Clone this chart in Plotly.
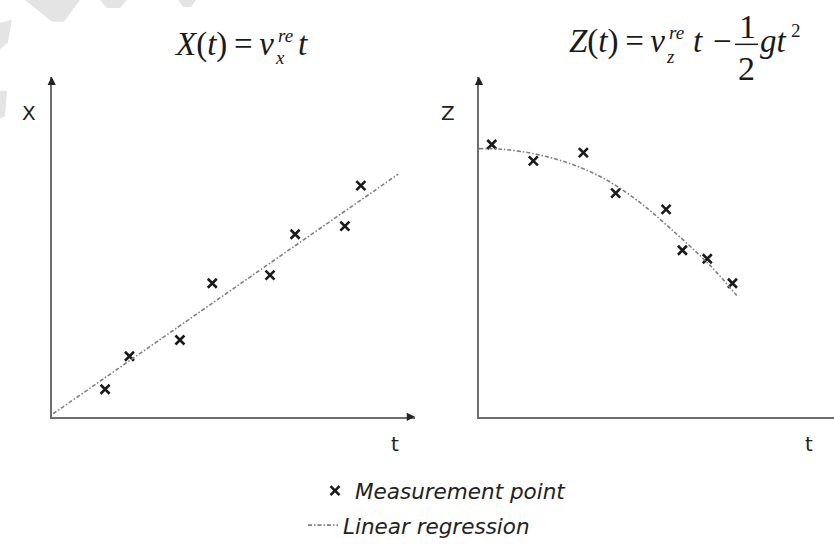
import plotly.graph_objects as go

W, H = 834, 546

# ---------------- data ----------------
t_x = [1.47, 2.14, 3.53, 4.42, 6.01, 6.70, 8.07, 8.51]
x_meas = [0.81, 1.78, 2.26, 3.93, 4.17, 5.37, 5.61, 6.80]
t_x_fit = [0.04, 9.54]
x_fit = [0.09, 7.14]

t_z = [0.36, 1.53, 2.94, 3.85, 5.27, 5.73, 6.43, 7.14]
z_meas = [8.01, 7.53, 7.77, 6.58, 6.10, 4.90, 4.65, 3.93]
t_z_fit = [0.0, 0.68, 1.63, 2.56, 3.50, 4.44, 5.38, 6.51, 7.26]
z_fit = [7.89, 7.87, 7.72, 7.45, 7.02, 6.38, 5.55, 4.45, 3.57]

legend_labels = ["Measurement point", "Linear regression"]
axis_names = ["X", "Z", "t", "t"]

# ---------------- helpers (layout only) ----------------
def px(v):
    return v / W

def py(v):
    return 1 - v / H

SERIF = "Liberation Serif"
SANS = "DejaVu Sans"
INK = "#1a1a1a"
TS = "\u2009"  # thin space

marker = dict(symbol="x-thin", size=9, color=INK, line=dict(width=2.6, color=INK))
fitline = dict(color="#808080", width=1.6, dash="4px,2px,1.5px,2px")

fig = go.Figure()
fig.add_trace(go.Scatter(x=t_x, y=x_meas, mode="markers", marker=marker,
                         name=legend_labels[0], legend="legend", xaxis="x", yaxis="y"))
fig.add_trace(go.Scatter(x=t_x_fit, y=x_fit, mode="lines", line=fitline,
                         name=legend_labels[1], legend="legend2", xaxis="x", yaxis="y"))
fig.add_trace(go.Scatter(x=t_z, y=z_meas, mode="markers", marker=marker,
                         name=legend_labels[0], showlegend=False, xaxis="x2", yaxis="y2"))
fig.add_trace(go.Scatter(x=t_z_fit, y=z_fit, mode="lines", line=dict(fitline, shape="spline"),
                         name=legend_labels[1], showlegend=False, xaxis="x2", yaxis="y2"))

ax_common = dict(showgrid=False, zeroline=False, showticklabels=False, ticks="",
                 showline=True, linecolor="#6e6e6e", linewidth=2, range=[0, 10], fixedrange=True)

ann = []
# arrow heads
for xr, yr, x, y, ax, ay in [("x", "y", 0, 10, 0, 6), ("x", "y", 10, 0, -6, 0), ("x2", "y2", 0, 10, 0, 6)]:
    ann.append(dict(xref=xr, yref=yr, x=x, y=y, ax=ax, ay=ay, text="", showarrow=True,
                    arrowhead=2, arrowsize=1.1, arrowwidth=1.5, arrowcolor="#222"))

# axis names
for name, (xx, yy) in zip(axis_names, [(20, 100), (448, 100), (395, 465), (815, 465)]):
    ann.append(dict(xref="paper", yref="paper", x=px(xx), y=py(yy), text=name, showarrow=False,
                    font=dict(family=SANS, size=20, color="#222")))

def txt(s, x, y, size, xanchor="left"):
    ann.append(dict(xref="paper", yref="paper", x=px(x), y=py(y), text=s, showarrow=False,
                    xanchor=xanchor, yanchor="middle", borderpad=0,
                    font=dict(family=SERIF, size=size, color=INK)))

# left title  X(t) = v_x^re t
txt(f"<i>X</i>(<i>t</i>){TS}={TS}<i>v</i>", 275, 45, 33, "right")
txt("<i>re</i>", 277, 36, 19)
txt("<i>x</i>", 274, 58, 19)
txt("<i>t</i>", 297, 45, 33)

# right title  Z(t) = v_z^re t - 1/2 g t^2
txt(f"<i>Z</i>(<i>t</i>){TS}={TS}<i>v</i>", 666, 42, 33, "right")
txt("<i>re</i>", 668, 33, 19)
txt("<i>z</i>", 665, 57, 19)
txt("<i>t</i>", 692, 42, 33)
txt("\u2212", 722, 42, 33, "center")
txt("1", 747, 27, 34, "center")
txt("2", 746.5, 70, 34, "center")
txt("<i>gt</i>", 759, 42, 33)
txt("2", 790, 31, 19)

shapes = [dict(type="line", xref="paper", yref="paper", x0=px(735), x1=px(758), y0=py(45), y1=py(45),
               line=dict(color=INK, width=1.5))]

# faint watermark fragments in the top-left corner
wm = [
    [(25, 0), (80, 0), (64, 22), (52, 22)],
    [(100, 0), (127, 0), (120, 8), (107, 8)],
    [(178, 0), (196, 0), (191, 7), (183, 7)],
    [(0, 23), (12, 20), (8, 43), (0, 50)],
    [(0, 92), (7, 92), (5, 118), (0, 120)],
]
for poly in wm:
    path = "M " + " L ".join(f"{px(a):.5f},{py(b):.5f}" for a, b in poly) + " Z"
    shapes.append(dict(type="path", xref="paper", yref="paper", path=path,
                       fillcolor="#e4e4e4", line=dict(width=0), layer="below"))

legend_font = dict(family=SANS, size=21.5, style="italic", color="#222")
fig.update_layout(
    width=W, height=H, margin=dict(l=0, r=0, t=0, b=0),
    paper_bgcolor="white", plot_bgcolor="white",
    xaxis=dict(ax_common, domain=[px(51.7), px(415)]),
    yaxis=dict(ax_common, domain=[py(423), py(78)]),
    xaxis2=dict(ax_common, domain=[px(479), 1.0], anchor="y2"),
    yaxis2=dict(ax_common, domain=[py(423), py(78)], anchor="x2"),
    legend=dict(x=px(315), y=py(498), xanchor="left", yanchor="middle", font=legend_font,
                bgcolor="rgba(0,0,0,0)", borderwidth=0, itemwidth=30),
    legend2=dict(x=px(303), y=py(533), xanchor="left", yanchor="middle", font=legend_font,
                 bgcolor="rgba(0,0,0,0)", borderwidth=0, itemwidth=30),
    annotations=ann, shapes=shapes, showlegend=True,
)

fig.write_html("out.html", config={"displayModeBar": False},
               post_script="document.body.style.margin='0px';")
